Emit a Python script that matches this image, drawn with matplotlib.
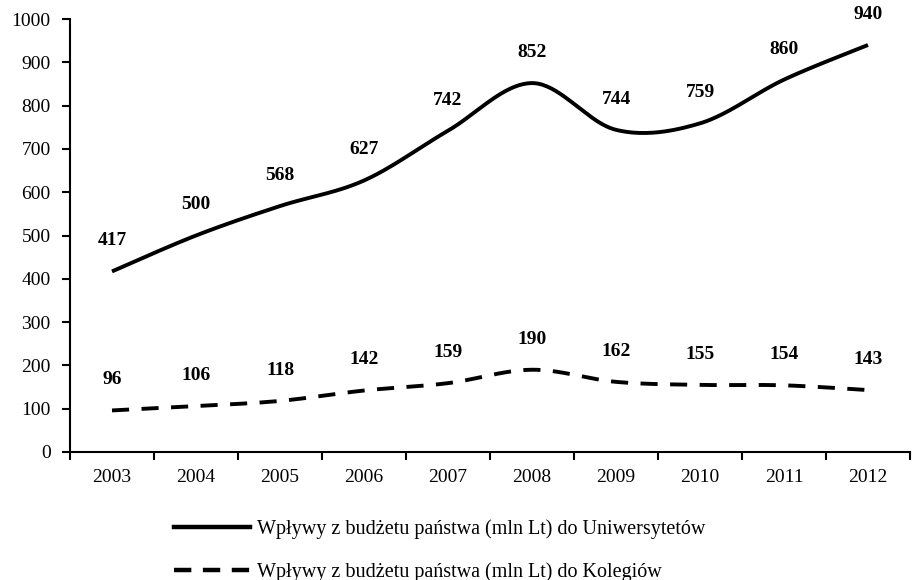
import numpy as np
import matplotlib.pyplot as plt
from matplotlib.lines import Line2D

plt.rcParams['font.family'] = ['Liberation Serif', 'DejaVu Serif']

years = ['2003', '2004', '2005', '2006', '2007', '2008', '2009', '2010', '2011', '2012']
universities = [417, 500, 568, 627, 742, 852, 744, 759, 860, 940]
colleges = [96, 106, 118, 142, 159, 190, 162, 155, 154, 143]
label_uni = 'Wpływy z budżetu państwa (mln Lt) do Uniwersytetów'
label_col = 'Wpływy z budżetu państwa (mln Lt) do Kolegiów'


def smooth(y, n=40):
    # Excel-like smoothed line: cubic Bezier segments with Catmull-Rom control points
    x = np.arange(len(y), dtype=float)
    y = np.asarray(y, dtype=float)
    pts = np.column_stack([x, y])
    ext = np.vstack([pts[0], pts, pts[-1]])
    out = []
    t = np.linspace(0, 1, n)[:, None]
    for i in range(len(pts) - 1):
        p0, p3 = ext[i + 1], ext[i + 2]
        c1 = p0 + (ext[i + 2] - ext[i]) / 6
        c2 = p3 - (ext[i + 3] - ext[i + 1]) / 6
        seg = (1 - t) ** 3 * p0 + 3 * (1 - t) ** 2 * t * c1 + 3 * (1 - t) * t ** 2 * c2 + t ** 3 * p3
        out.append(seg if i == 0 else seg[1:])
    out = np.vstack(out)
    return out[:, 0], out[:, 1]


dash = (4.4, 3.2)

fig = plt.figure(figsize=(9.13, 5.8), dpi=100)
ax = fig.add_axes([70 / 913, 128 / 580, 840 / 913, 433 / 580])

xs, ys = smooth(universities)
ax.plot(xs, ys, color='black', lw=2.8, solid_capstyle='butt')
xs, ys = smooth(colleges)
ax.plot(xs, ys, color='black', lw=2.8, dashes=dash, dash_capstyle='butt')

for i, v in enumerate(universities):
    ax.annotate(str(v), (i, v), xytext=(0, 22), textcoords='offset points',
                ha='center', va='center', fontsize=14, fontweight='bold')
for i, v in enumerate(colleges):
    ax.annotate(str(v), (i, v), xytext=(0, 22), textcoords='offset points',
                ha='center', va='center', fontsize=14, fontweight='bold')

ax.set_xlim(-0.5, 9.5)
ax.set_ylim(0, 1000)
ax.set_yticks(np.arange(0, 1001, 100))
ax.set_xticks(np.arange(len(years)))
ax.set_xticklabels(years)
ax.set_xticks(np.arange(-0.5, 10, 1), minor=True)
ax.tick_params(axis='x', which='major', length=0, pad=12, labelsize=14)
ax.tick_params(axis='x', which='minor', length=6, width=1.5, direction='out')
ax.tick_params(axis='y', length=6, width=1.5, direction='out', labelsize=14, pad=8)

for s in ['top', 'right']:
    ax.spines[s].set_visible(False)
for s in ['left', 'bottom']:
    ax.spines[s].set_linewidth(1.5)

handles = [Line2D([], [], color='black', lw=3.2),
           Line2D([], [], color='black', lw=3.2, dashes=(3.9, 2.6))]
fig.legend(handles, [label_uni, label_col], loc='upper left',
           bbox_to_anchor=(156 / 913, 1 - 501 / 580), frameon=False,
           fontsize=14.5, handlelength=3.75, handletextpad=0.35, labelspacing=1.15)

fig.savefig('out.png', dpi=100)
